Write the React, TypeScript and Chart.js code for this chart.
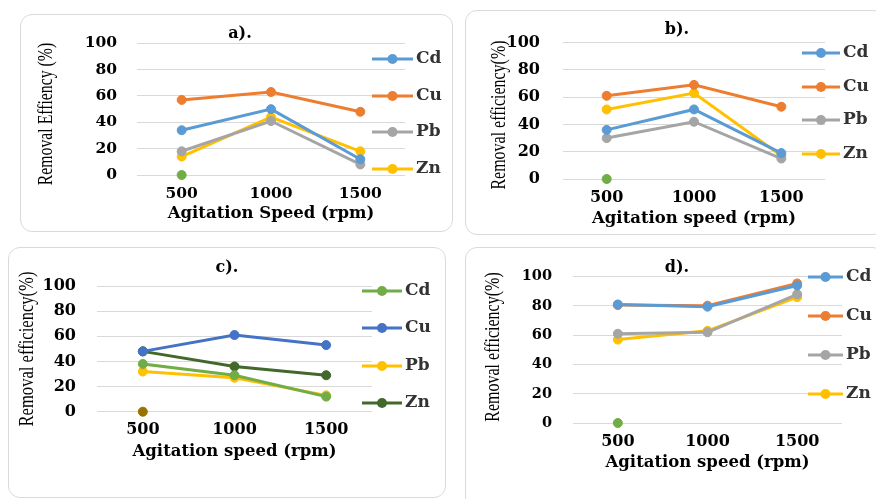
import { useEffect, useRef } from 'react';
import { Chart, registerables } from 'chart.js';

Chart.register(...registerables);

// ---------- data ----------
const speeds = ['500', '1000', '1500'];
const metals = ['Cd', 'Cu', 'Pb', 'Zn'];
const yTickValues = [0, 20, 40, 60, 80, 100];

const aCd = [34, 50, 12];
const aCu = [57, 63, 48];
const aPb = [18, 41, 8];
const aZn = [14, 44, 18];

const bCd = [36, 51, 19];
const bCu = [61, 69, 53];
const bPb = [30, 42, 15];
const bZn = [51, 63, 17];

const cCd = [38, 29, 12];
const cCu = [48, 61, 53];
const cPb = [32, 27, 13];
const cZn = [48, 36, 29];

const dCd = [81, 79.5, 94];
const dCu = [80.6, 80.2, 95.4];
const dPb = [61, 62, 88];
const dZn = [57, 63, 86];

const strayPoint = [0, null, null];

// ---------- styles / layout ----------
const officeColors = ['#5B9BD5', '#ED7D31', '#A5A5A5', '#FFC000'];
const panelCColors = ['#70AD47', '#4472C4', '#FFC000', '#43682B'];

const SERIF_BOLD = '"DejaVu Serif", "Liberation Serif", serif';
const SERIF = '"Liberation Serif", "Times New Roman", serif';

type Spec = {
  title: string;
  box: { x: number; y: number; w: number; h: number };
  ca: { l: number; r: number; t: number; b: number };
  yTitle: string;
  xTitle: string;
  yTitleX: number;
  yTitleY: number;
  yTitleSize: number;
  yTitleSqueeze: number;
  xTitleY: number;
  xTitleSize: number;
  xTickY: number;
  xTickSize: number;
  yTickRight: number;
  yTickSize: number;
  titlePos: { x: number; y: number };
  legend: { x1: number; x2: number; tx: number; ys: number[] };
  series: number[][];
  colors: string[];
  stray: string;
};

const panels: Spec[] = [
  {
    title: 'a).',
    box: { x: 20, y: 14, w: 433, h: 218 },
    ca: { l: 137, r: 405, t: 43, b: 175 },
    yTitle: 'Removal Effiency (%)',
    xTitle: 'Agitation Speed (rpm)',
    yTitleX: 46, yTitleY: 114, yTitleSize: 21, yTitleSqueeze: 0.75,
    xTitleY: 214, xTitleSize: 16.5,
    xTickY: 194, xTickSize: 15.5,
    yTickRight: 117, yTickSize: 15.5,
    titlePos: { x: 240, y: 34 },
    legend: { x1: 372, x2: 413, tx: 416, ys: [59, 96, 132, 169] },
    series: [aCd, aCu, aPb, aZn],
    colors: officeColors,
    stray: '#70AD47',
  },
  {
    title: 'b).',
    box: { x: 465, y: 10, w: 420, h: 225 },
    ca: { l: 563, r: 825, t: 41.7, b: 179 },
    yTitle: 'Removal efficiency(%)',
    xTitle: 'Agitation speed (rpm)',
    yTitleX: 499, yTitleY: 115, yTitleSize: 21, yTitleSqueeze: 0.76,
    xTitleY: 219, xTitleSize: 16.5,
    xTickY: 198, xTickSize: 16,
    yTickRight: 540, yTickSize: 16,
    titlePos: { x: 677, y: 30 },
    legend: { x1: 802, x2: 840, tx: 843, ys: [53, 87, 120, 154] },
    series: [bCd, bCu, bPb, bZn],
    colors: officeColors,
    stray: '#70AD47',
  },
  {
    title: 'c).',
    box: { x: 8, y: 247, w: 438, h: 251 },
    ca: { l: 97, r: 372, t: 286, b: 411.7 },
    yTitle: 'Removal efficiency(%)',
    xTitle: 'Agitation speed (rpm)',
    yTitleX: 27, yTitleY: 349, yTitleSize: 21, yTitleSqueeze: 0.79,
    xTitleY: 452, xTitleSize: 16.5,
    xTickY: 430, xTickSize: 16,
    yTickRight: 76, yTickSize: 16,
    titlePos: { x: 227, y: 268 },
    legend: { x1: 362, x2: 402, tx: 405, ys: [291, 328, 366, 403] },
    series: [cCd, cCu, cPb, cZn],
    colors: panelCColors,
    stray: '#997300',
  },
  {
    title: 'd).',
    box: { x: 465, y: 247, w: 420, h: 262 },
    ca: { l: 573, r: 842, t: 276.7, b: 423 },
    yTitle: 'Removal efficiency(%)',
    xTitle: 'Agitation speed (rpm)',
    yTitleX: 494, yTitleY: 347, yTitleSize: 20, yTitleSqueeze: 0.8,
    xTitleY: 463, xTitleSize: 16.5,
    xTickY: 442, xTickSize: 16,
    yTickRight: 552, yTickSize: 14.5,
    titlePos: { x: 677, y: 268 },
    legend: { x1: 808, x2: 843, tx: 846, ys: [277, 316, 355, 394] },
    series: [dCd, dCu, dPb, dZn],
    colors: officeColors,
    stray: '#70AD47',
  },
];

function Panel({ spec }: { spec: Spec }) {
  const ref = useRef<HTMLCanvasElement | null>(null);

  useEffect(() => {
    const canvas = ref.current;
    if (!canvas) return;
    const p = spec;
    const L = (x: number) => x - p.box.x;
    const T = (y: number) => y - p.box.y;
    const xLH = p.xTitleSize * 1.2;
    const caL = L(p.ca.l);
    const caR = L(p.ca.r);
    const caT = T(p.ca.t);
    const caB = T(p.ca.b);
    const padLeft = 4;
    const yWidth = caL - padLeft;
    const xHeight = T(p.xTitleY) - caB + xLH / 2;
    const padBottom = Math.max(0, p.box.h - caB - xHeight);
    const xTickPad = T(p.xTickY) - caB - p.xTickSize * 0.6;
    const yTickPad = caL - L(p.yTickRight);

    const datasets: any[] = metals.map((m, i) => ({
      label: m,
      data: p.series[i],
      borderColor: p.colors[i],
      backgroundColor: p.colors[i],
      pointBackgroundColor: p.colors[i],
      pointBorderColor: p.colors[i],
      borderWidth: 3,
      pointRadius: 4.5,
      pointBorderWidth: 1,
      tension: 0,
      clip: false,
    }));
    datasets.push({
      label: '',
      data: strayPoint,
      borderColor: p.stray,
      backgroundColor: p.stray,
      pointBackgroundColor: p.stray,
      pointBorderColor: p.stray,
      showLine: false,
      pointRadius: 4.5,
      clip: false,
    });

    const decor = {
      id: 'decor',
      afterDraw(chart: any) {
        const ctx = chart.ctx as CanvasRenderingContext2D;
        ctx.save();
        // panel title
        ctx.fillStyle = '#000';
        ctx.font = `bold 16px ${SERIF_BOLD}`;
        ctx.textAlign = 'center';
        ctx.textBaseline = 'middle';
        ctx.fillText(p.title, L(p.titlePos.x), T(p.titlePos.y));
        // y-axis title (tall, condensed serif)
        ctx.save();
        ctx.translate(L(p.yTitleX), T(p.yTitleY));
        ctx.rotate(-Math.PI / 2);
        ctx.scale(p.yTitleSqueeze, 1);
        ctx.font = `normal ${p.yTitleSize}px ${SERIF}`;
        ctx.fillStyle = '#000';
        ctx.textAlign = 'center';
        ctx.textBaseline = 'middle';
        ctx.fillText(p.yTitle, 0, 0);
        ctx.restore();
        // legend
        const lg = p.legend;
        metals.forEach((m, i) => {
          const ds = chart.data.datasets[i];
          const y = T(lg.ys[i]);
          const x1 = L(lg.x1);
          const x2 = L(lg.x2);
          ctx.strokeStyle = ds.borderColor;
          ctx.lineWidth = 3;
          ctx.beginPath();
          ctx.moveTo(x1, y);
          ctx.lineTo(x2, y);
          ctx.stroke();
          ctx.fillStyle = ds.borderColor;
          ctx.beginPath();
          ctx.arc((x1 + x2) / 2, y, 5, 0, Math.PI * 2);
          ctx.fill();
          ctx.fillStyle = '#333';
          ctx.font = `bold 17px ${SERIF_BOLD}`;
          ctx.textAlign = 'left';
          ctx.textBaseline = 'middle';
          ctx.fillText(m, L(lg.tx), y);
        });
        ctx.restore();
      },
    };

    const chart = new Chart(canvas, {
      type: 'line',
      data: { labels: speeds, datasets },
      options: {
        animation: false,
        responsive: false,
        devicePixelRatio: 1,
        layout: {
          padding: {
            left: padLeft,
            right: p.box.w - caR,
            top: caT,
            bottom: padBottom,
          },
        },
        plugins: {
          legend: { display: false },
          title: { display: false },
          tooltip: { enabled: false },
        },
        scales: {
          x: {
            type: 'category',
            offset: true,
            grid: { display: false, drawTicks: false },
            border: { display: false },
            ticks: {
              color: '#000',
              padding: xTickPad,
              maxRotation: 0,
              font: { family: SERIF_BOLD, weight: 'bold', size: p.xTickSize },
            },
            title: {
              display: true,
              text: p.xTitle,
              color: '#000',
              padding: 0,
              font: { family: SERIF_BOLD, weight: 'bold', size: p.xTitleSize },
            },
            afterFit: (s: any) => {
              s.height = xHeight;
            },
          },
          y: {
            min: 0,
            max: 100,
            afterBuildTicks: (s: any) => {
              s.ticks = yTickValues.map((v) => ({ value: v }));
            },
            grid: { color: '#D9D9D9', lineWidth: 1, drawTicks: false },
            border: { display: false },
            ticks: {
              color: '#000',
              padding: yTickPad,
              font: { family: SERIF_BOLD, weight: 'bold', size: p.yTickSize },
            },
            title: { display: false },
            afterFit: (s: any) => {
              s.width = yWidth;
            },
          },
        },
      } as any,
      plugins: [decor],
    });
    return () => chart.destroy();
  }, [spec]);

  const b = spec.box;
  return (
    <>
      <canvas
        ref={ref}
        width={b.w}
        height={b.h}
        style={{ position: 'absolute', left: b.x, top: b.y, width: b.w, height: b.h }}
      />
      <div
        style={{
          position: 'absolute',
          left: b.x,
          top: b.y,
          width: b.w,
          height: b.h,
          boxSizing: 'border-box',
          border: '1px solid #D9D9D9',
          borderRadius: 12,
          pointerEvents: 'none',
        }}
      />
    </>
  );
}

export default function App() {
  return (
    <div
      style={{
        position: 'absolute',
        left: 0,
        top: 0,
        width: 876,
        height: 499,
        overflow: 'hidden',
        background: '#fff',
      }}
    >
      {panels.map((p) => (
        <Panel key={p.title} spec={p} />
      ))}
    </div>
  );
}
